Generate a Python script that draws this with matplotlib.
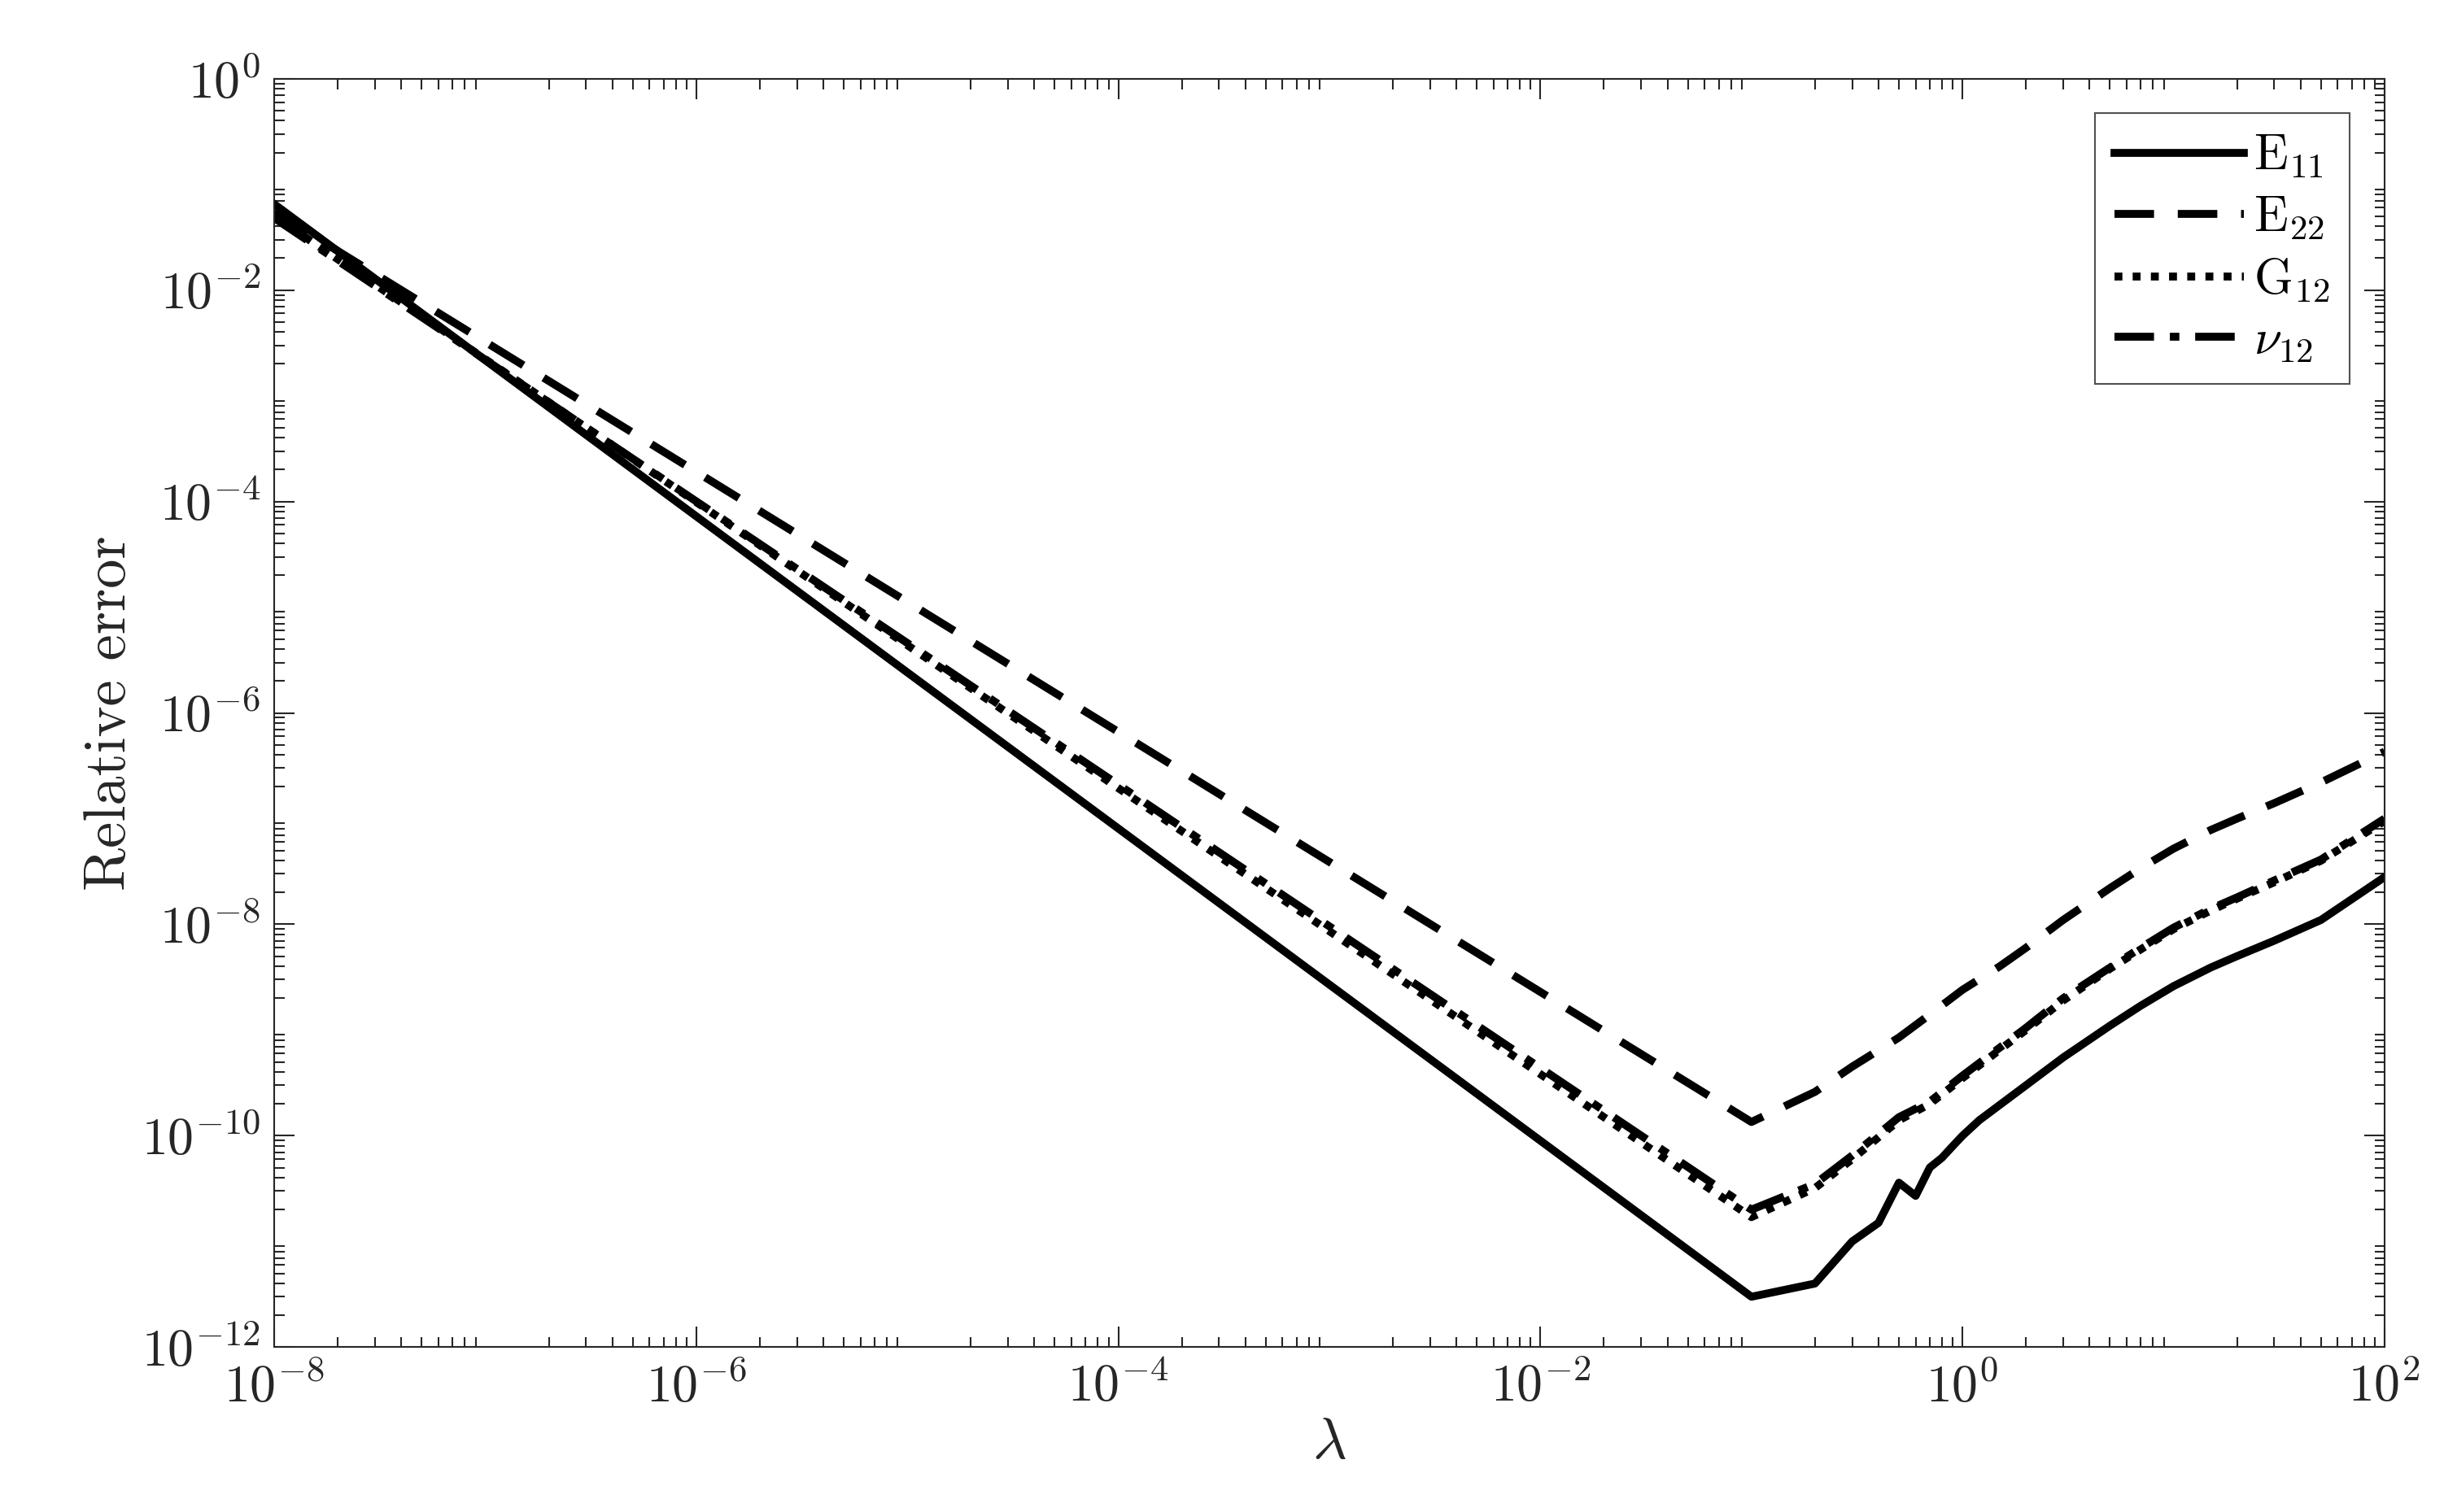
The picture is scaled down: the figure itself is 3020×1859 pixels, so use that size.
import matplotlib
matplotlib.use("Agg")
import matplotlib.pyplot as plt
import numpy as np

lam_e11 = [1e-8, 0.1, 0.2, 0.3, 0.4, 0.5, 0.6, 0.7, 0.8, 0.9, 1.0, 1.2, 2.0, 3.0, 5.0, 7.0, 10.0, 15.0, 20.0, 30.0, 50.0, 100.0]
e11 = [6.5e-2, 3.0e-12, 4.0e-12, 1.0e-11, 1.5e-11, 3.6e-11, 2.7e-11, 5.0e-11, 6.2e-11, 8.0e-11, 1.0e-10, 1.4e-10, 3.0e-10, 5.5e-10, 1.1e-9, 1.7e-9, 2.6e-9, 3.9e-9, 5.0e-9, 7.0e-9, 1.1e-8, 2.8e-8]

lam_e22 = [1e-8, 0.1, 0.2, 0.3, 0.5, 0.7, 1.0, 1.5, 2.0, 3.0, 5.0, 7.0, 10.0, 15.0, 20.0, 30.0, 50.0, 100.0]
e22 = [5.5e-2, 1.35e-10, 2.6e-10, 4.5e-10, 8.5e-10, 1.4e-9, 2.4e-9, 4.0e-9, 6.0e-9, 1.1e-8, 2.2e-8, 3.4e-8, 5.2e-8, 7.8e-8, 1.0e-7, 1.4e-7, 2.2e-7, 4.3e-7]

lam_mid = [1e-8, 0.1, 0.2, 0.3, 0.5, 0.7, 1.0, 1.5, 2.0, 3.0, 5.0, 7.0, 10.0, 15.0, 20.0, 30.0, 50.0, 100.0]
g12 = [5.0e-2, 1.7e-11, 3.2e-11, 6.0e-11, 1.4e-10, 2.0e-10, 3.5e-10, 6.5e-10, 1.0e-9, 1.9e-9, 3.8e-9, 5.8e-9, 9.0e-9, 1.35e-8, 1.75e-8, 2.5e-8, 4.0e-8, 9.5e-8]
nu12 = [4.8e-2, 2.0e-11, 3.5e-11, 6.5e-11, 1.5e-10, 2.1e-10, 3.7e-10, 6.8e-10, 1.05e-9, 2.0e-9, 3.9e-9, 6.0e-9, 9.3e-9, 1.4e-8, 1.8e-8, 2.6e-8, 4.1e-8, 1.0e-7]

plt.rcParams['font.family'] = ['cmr10', 'DejaVu Serif']
plt.rcParams['mathtext.fontset'] = 'cm'
plt.rcParams['axes.formatter.use_mathtext'] = True

fig = plt.figure(figsize=(30.2, 18.59), dpi=100)
ax = fig.add_axes([0.1116, 0.109, 0.8589, 0.839])
lw = 7
ax.plot(lam_e11, e11, 'k-', lw=lw, label=r'E$_{11}$')
ax.plot(lam_e22, e22, 'k', ls=(0, (5, 3)), lw=lw, label=r'E$_{22}$')
ax.plot(lam_mid, g12, 'k', ls=(0, (1, 1.3)), lw=lw, label=r'G$_{12}$')
ax.plot(lam_mid, nu12, 'k', ls=(0, (5, 2, 1.2, 2)), lw=lw, label=r'$\nu_{12}$')
ax.set_xscale('log'); ax.set_yscale('log')
ax.set_xlim(1e-8, 1e2); ax.set_ylim(1e-12, 1)
ax.set_xticks([1e-8, 1e-6, 1e-4, 1e-2, 1, 1e2])
ax.set_yticks([10.0**k for k in range(-12, 1, 2)])
ax.tick_params(which='both', direction='in', top=True, right=True, labelsize=46, width=1.5, colors='#262626')
ax.tick_params(axis='x', pad=14)
ax.tick_params(axis='y', pad=12)
ax.tick_params(which='major', length=18)
ax.tick_params(which='minor', length=9)
ax.yaxis.set_minor_locator(matplotlib.ticker.LogLocator(base=10, subs=np.arange(2, 10), numticks=100))
ax.xaxis.set_minor_locator(matplotlib.ticker.LogLocator(base=10, subs=np.arange(2, 10), numticks=100))
for s in ax.spines.values():
    s.set_linewidth(1.5); s.set_color('#262626')
ax.set_xlabel(r'$\lambda$', fontsize=52, color='#262626')
ax.set_ylabel('Relative error', fontsize=52, color='#262626')
leg = ax.legend(loc='upper right', fontsize=44, handlelength=2.6, handletextpad=0.2,
                fancybox=False, edgecolor='#262626', borderaxespad=0.7, labelspacing=0.3)
leg.get_frame().set_linewidth(1.5)
fig.savefig('out.png', dpi=100)
